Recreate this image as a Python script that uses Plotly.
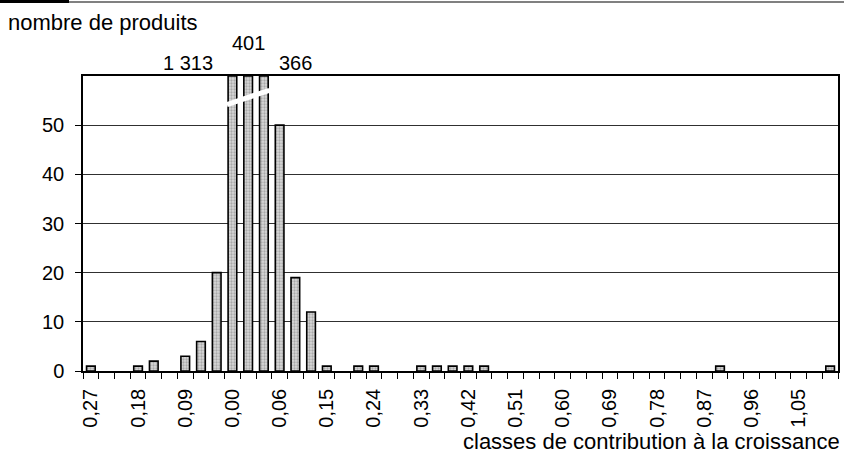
import plotly.graph_objects as go

# classes (index 0..47); labels every 3rd class
class_labels = ["0,27", "0,18", "0,09", "0,00", "0,06", "0,15", "0,24", "0,33",
                "0,42", "0,51", "0,60", "0,69", "0,78", "0,87", "0,96", "1,05"]
label_idx = [0, 3, 6, 9, 12, 15, 18, 21, 24, 27, 30, 33, 36, 39, 42, 45]
n_classes = 48

counts = {0: 1, 3: 1, 4: 2, 6: 3, 7: 6, 8: 20, 9: 1313, 10: 401, 11: 366,
          12: 50, 13: 19, 14: 12, 15: 1, 17: 1, 18: 1, 21: 1, 22: 1, 23: 1,
          24: 1, 25: 1, 40: 1, 47: 1}

y_cap = 60
y_ticks = [0, 10, 20, 30, 40, 50]

x_idx = list(range(n_classes))
values = [counts.get(i, 0) for i in x_idx]
shown = [min(v, y_cap) if v > 0 else None for v in values]
broken = [i for i, v in enumerate(values) if v > y_cap]

FONT = "Liberation Sans, Arial, sans-serif"
fs = 20
fs_title = 22

fig = go.Figure()
fig.add_trace(go.Bar(
    x=x_idx, y=shown, width=0.55,
    marker=dict(color="#d0d0d0",
                line=dict(color="black", width=1.6),
                pattern=dict(shape=".", fgcolor="#7a7a7a", bgcolor="#d8d8d8",
                             size=3, solidity=0.45)),
    hoverinfo="skip", showlegend=False,
))

# break marks across clipped bars
if broken:
    fig.add_shape(type="line", xref="x", yref="y",
                  x0=min(broken) - 0.35, x1=max(broken) + 0.35,
                  y0=y_cap - 5.8, y1=y_cap - 2.9,
                  line=dict(color="white", width=5), layer="above")

# value labels for broken bars
anchors = ["right", "center", "left"]
shifts = [(-17, 0), (0, 20), (13, 0)]
for k, i in enumerate(broken):
    xa = anchors[k % 3]
    xs, ys = shifts[k % 3]
    fig.add_annotation(x=i, y=y_cap, xref="x", yref="y",
                       text=f"{values[i]:,}".replace(",", " "),
                       showarrow=False, xanchor=xa, yanchor="bottom",
                       xshift=xs, yshift=ys,
                       font=dict(family=FONT, size=fs, color="black"))

fig.add_annotation(xref="paper", yref="paper", x=0, y=1, xanchor="left",
                   yanchor="middle", xshift=-77, yshift=54,
                   text="nombre de produits", showarrow=False,
                   font=dict(family=FONT, size=fs_title, color="black"))
fig.add_annotation(xref="paper", yref="paper", x=1, y=0, xanchor="right",
                   yanchor="middle", xshift=4, yshift=-70,
                   text="classes de contribution à la croissance", showarrow=False,
                   font=dict(family=FONT, size=fs_title, color="black"))

# top decorative rule
fig.add_shape(type="line", xref="paper", yref="paper", xsizemode="pixel", ysizemode="pixel",
              xanchor=0, yanchor=1, x0=-83, x1=770, y0=74, y1=74,
              line=dict(color="#808080", width=2))
fig.add_shape(type="rect", xref="paper", yref="paper", xsizemode="pixel", ysizemode="pixel",
              xanchor=0, yanchor=1, x0=-83, x1=-14, y0=73, y1=76,
              line=dict(width=0), fillcolor="black")

fig.update_layout(
    width=844, height=455,
    margin=dict(l=83, r=6, t=76, b=84),
    paper_bgcolor="white", plot_bgcolor="white",
    font=dict(family=FONT, size=fs, color="black"),
    bargap=0.45,
    xaxis=dict(range=[-0.5, n_classes - 0.5], tickmode="array",
               tickvals=label_idx, ticktext=class_labels, tickangle=-90,
               ticks="", showgrid=False, zeroline=False, automargin=False,
               showline=True, linecolor="black", linewidth=1.5, mirror=True,
               ticklabelstandoff=8,
               minor=dict(tick0=-0.5, dtick=1, ticks="outside", ticklen=6,
                          tickcolor="black", tickwidth=1, showgrid=False),
               tickfont=dict(size=fs)),
    yaxis=dict(range=[0, y_cap], tickmode="array", tickvals=y_ticks,
               ticks="outside", ticklen=6, tickcolor="black", automargin=False,
               showgrid=True, gridcolor="#303030", gridwidth=1,
               ticklabelstandoff=7,
               zeroline=False, showline=True, linecolor="black", linewidth=1.5,
               mirror=True, tickfont=dict(size=fs)),
)

fig.write_html("out.html", config={"displayModeBar": False},
               post_script="document.body.style.margin='0';document.body.style.padding='0';")
